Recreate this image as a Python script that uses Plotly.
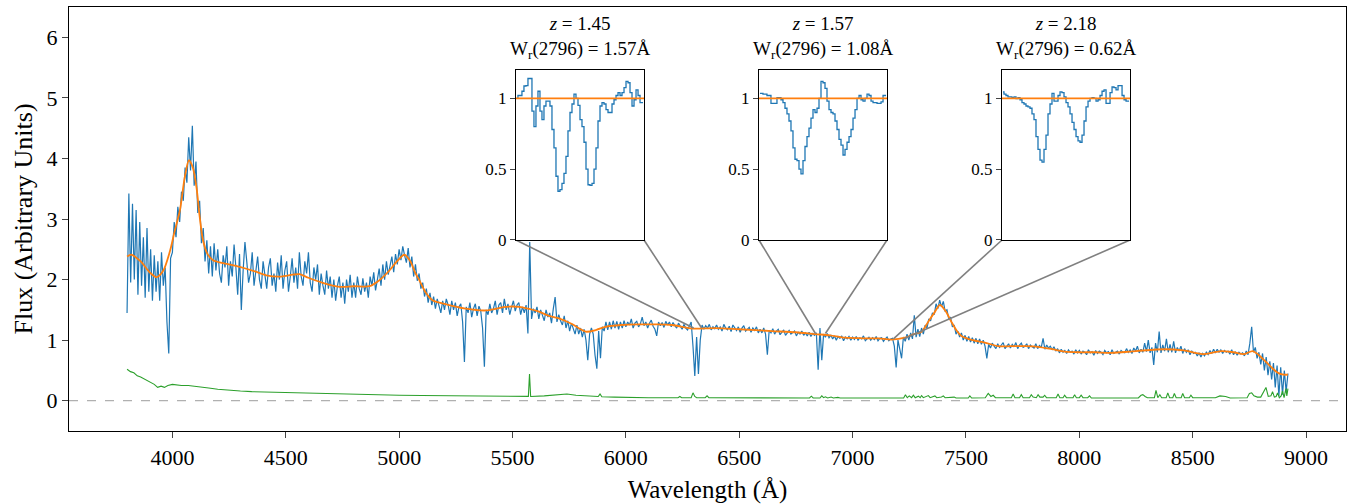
import numpy as np
import plotly.graph_objects as go

# ---------------- data ----------------
WAVE_START = 3800.0
WAVE_STEP = 8.0
FLUX = [
    1.45,3.42,1.95,3.25,2.0,3.15,1.75,2.95,1.9,2.7,1.7,2.85,1.8,2.5,1.65,2.4,1.8,2.3,1.65,2.45,1.9,2.2,1.3,0.78,2.35,
    2.45,2.95,2.7,3.2,2.95,3.45,3.3,3.85,3.6,4.35,3.8,4.54,3.55,3.95,3.1,3.3,2.6,2.85,2.3,2.65,2.1,2.55,2.05,2.6,2.15,
    2.5,2.1,1.95,2.4,2.2,2.55,1.9,2.3,2.05,2.58,2.2,1.75,2.42,1.5,2.15,2.62,2.3,1.95,2.1,2.45,1.9,2.2,2.38,2.0,1.85,
    2.3,2.05,1.85,2.2,2.35,1.9,2.1,1.8,2.28,2.0,2.4,1.85,2.15,2.3,1.8,2.05,2.35,1.95,2.2,1.85,2.45,2.05,1.9,2.3,2.1,
    2.45,1.95,1.8,2.2,2.0,2.25,1.75,2.1,1.9,1.75,2.15,1.85,2.05,1.7,2.0,1.65,1.9,2.05,1.7,1.95,1.6,2.0,1.8,2.08,1.7,
    1.95,1.7,2.05,1.85,1.75,2.02,1.8,1.95,1.7,2.05,1.9,2.12,1.82,2.0,2.18,1.9,2.25,2.0,2.3,2.08,2.22,2.38,2.12,2.42,2.25,
    2.5,2.32,2.55,2.4,2.28,2.52,2.2,2.38,2.05,2.25,1.98,2.1,1.85,1.95,1.72,1.85,1.62,1.78,1.58,1.72,1.52,1.68,1.55,1.45,1.65,
    1.5,1.68,1.58,1.42,1.65,1.5,1.62,1.4,1.55,1.6,1.3,0.64,1.55,1.45,1.62,1.38,1.52,1.6,1.4,1.56,1.48,1.2,0.56,1.5,1.42,
    1.6,1.45,1.52,1.65,1.42,1.58,1.62,1.45,1.68,1.5,1.6,1.42,1.55,1.65,1.48,1.58,1.62,1.42,1.55,1.45,1.58,1.11,2.62,1.35,1.52,
    1.45,1.55,1.35,1.5,1.42,1.32,1.5,1.38,1.45,1.28,1.52,1.71,1.3,1.42,1.32,1.25,1.4,1.2,1.32,1.15,1.28,1.2,1.1,1.25,1.1,
    1.2,1.05,1.18,1.0,0.67,1.1,1.2,1.1,0.75,0.53,1.15,0.7,1.22,1.15,1.3,1.17,1.3,1.18,1.32,1.2,1.31,1.18,1.3,1.2,1.32,
    1.22,1.3,1.25,1.35,1.2,1.28,1.31,1.22,1.27,1.38,1.24,1.3,1.2,1.28,1.33,1.23,1.18,1.07,1.3,1.24,1.29,1.21,1.31,1.25,1.3,
    1.22,1.29,1.24,1.2,1.28,1.22,1.18,1.26,1.2,1.17,1.23,1.3,0.9,0.41,1.05,0.44,1.0,1.25,1.18,1.24,1.2,1.26,1.17,1.22,1.19,
    1.25,1.18,1.22,1.15,1.26,1.2,1.17,1.23,1.14,1.25,1.2,1.16,1.22,1.13,1.2,1.24,1.15,1.19,1.21,1.13,1.2,1.16,1.22,1.12,1.18,
    1.12,1.2,1.1,0.76,1.16,1.12,1.19,1.1,1.15,1.18,1.09,1.14,1.17,1.08,1.13,1.16,1.1,1.12,1.15,1.07,1.13,1.1,1.15,1.08,1.12,
    1.07,1.13,1.06,1.11,1.08,1.12,0.51,1.2,0.67,1.1,1.05,1.11,1.04,1.08,1.02,1.07,1.0,1.06,1.03,1.07,0.99,1.05,1.02,1.06,1.0,
    1.05,1.01,1.06,1.0,1.04,1.02,1.07,0.99,1.03,1.05,1.0,1.04,1.01,1.06,0.99,1.03,1.04,0.98,1.02,1.05,0.99,1.02,1.03,0.9,0.55,
    1.0,0.85,0.7,1.05,0.98,1.1,1.0,1.12,1.02,1.41,1.05,1.18,1.06,1.2,1.1,1.25,1.2,1.35,1.32,1.45,1.42,1.6,1.52,1.66,1.55,
    1.64,1.48,1.5,1.35,1.38,1.22,1.25,1.1,1.15,1.05,1.12,1.0,1.08,0.98,1.06,0.97,1.04,0.95,1.03,0.94,1.02,0.93,1.0,0.9,0.7,
    0.93,0.87,0.95,0.9,0.86,0.94,0.88,0.92,0.96,0.86,0.91,0.94,0.87,0.93,0.89,0.96,0.86,0.92,0.95,0.88,0.9,0.94,0.86,0.92,0.89,
    0.87,0.94,0.86,0.91,0.88,1.03,0.85,0.92,0.87,0.9,0.84,0.89,0.82,0.86,0.79,0.85,0.8,0.83,0.78,0.84,0.8,0.82,0.77,0.84,0.79,
    0.83,0.77,0.82,0.8,0.76,0.84,0.79,0.81,0.75,0.83,0.78,0.82,0.8,0.76,0.83,0.79,0.81,0.76,0.84,0.78,0.8,0.82,0.77,0.83,0.8,
    0.79,0.86,0.8,0.84,0.78,0.87,0.82,0.9,0.79,0.85,0.8,0.95,0.81,1.0,0.79,0.88,0.59,0.95,0.8,1.14,0.79,0.92,0.82,1.02,0.8,
    0.93,0.8,0.98,0.79,0.88,0.82,0.9,0.78,0.86,0.8,0.84,0.76,0.82,0.78,0.8,0.74,0.79,0.72,0.78,0.74,0.8,0.76,0.83,0.78,0.85,
    0.79,0.85,0.8,0.84,0.78,0.83,0.8,0.82,0.77,0.84,0.76,0.81,0.75,0.8,0.77,0.79,0.74,0.82,0.76,0.95,1.22,0.8,0.88,0.7,0.8,
    0.6,0.78,0.5,0.72,0.42,0.65,0.35,0.62,0.22,0.58,0.08,0.55,0.1,0.5,0.15,0.45,
]

CONT_WAVE = [3800,3820,3860,3900,3930,3960,3990,4010,4033,4055,4073,4090,4106,4120,4135,4155,4179,4240,4297,4360,
             4414,4480,4530,4561,4600,4660,4737,4800,4869,4910,4957,4990,5023,5050,5070,5089,5115,5147,5200,5294,
             5382,5430,5470,5529,5580,5617,5661,5705,5760,5823,5870,5910,5980,6057,6130,6204,6292,6395,6500,6644,
             6750,6835,6900,6967,7060,7114,7172,7231,7270,7304,7333,7360,7385,7410,7436,7460,7480,7530,7583,7642,
             7700,7760,7818,7880,7935,8000,8070,8140,8250,8375,8460,8551,8625,8680,8727,8764,8790,8815,8850,8876,
             8900,8920]
CONT_FLUX = [2.38,2.41,2.30,2.12,2.04,2.15,2.48,2.80,3.14,3.70,3.97,3.85,3.53,3.05,2.65,2.42,2.32,2.26,2.21,2.14,
             2.07,2.05,2.08,2.09,2.03,1.95,1.88,1.89,1.89,1.98,2.15,2.30,2.41,2.30,2.12,1.99,1.80,1.66,1.60,1.52,
             1.49,1.52,1.55,1.55,1.51,1.47,1.40,1.36,1.27,1.14,1.17,1.22,1.25,1.26,1.26,1.25,1.19,1.20,1.18,1.15,
             1.13,1.10,1.08,1.04,1.03,1.03,1.01,1.04,1.10,1.14,1.30,1.45,1.58,1.48,1.30,1.15,1.07,1.00,0.96,0.90,
             0.90,0.90,0.89,0.85,0.81,0.80,0.80,0.79,0.82,0.85,0.83,0.77,0.82,0.80,0.77,0.82,0.76,0.67,0.54,0.46,
             0.43,0.43]

ERR_WAVE = [3800,3815,3830,3845,3860,3875,3890,3905,3920,3935,3950,3965,3980,4000,4020,4040,4070,4100,4130,4160,
            4200,4250,4300,4350,4400,4450,4500,4600,4700,4800,4900,5000,5100,5200,5300,5400,5500,5570,5575,5580,
            5640,5700,5740,5780,5830,5878,5886,5894,5950,6000,6100,6200,6230,6238,6246,6288,6296,6304,6312,6350,
            6358,6366,6600,6810,6818,6826,6856,6864,6872,6880,6890,6905,6915,6935,6945,7225,7233,7241,7250,7260,
            7268,7276,7290,7298,7304,7312,7334,7342,7363,7371,7392,7400,7408,7440,7448,7456,7510,7517,7525,7585,
            7598,7610,7620,7630,7700,7708,7716,7736,7744,7752,7780,7788,7796,7810,7818,7826,7840,7847,7855,7898,
            7906,7914,7928,7935,7943,7972,7979,7987,8000,8008,8016,8037,8045,8053,8260,8272,8280,8290,8300,8331,
            8338,8346,8355,8363,8383,8390,8398,8412,8419,8427,8449,8456,8464,8485,8492,8500,8560,8600,8620,8645,
            8665,8740,8750,8760,8770,8785,8800,8812,8823,8833,8845,8852,8860,8868,8874,8882,8890,8896,8903,8911,
            8915,8920]
ERR = [0.52,0.48,0.46,0.41,0.39,0.36,0.33,0.31,0.27,0.22,0.24,0.22,0.25,0.27,0.26,0.25,0.25,0.24,0.22,0.21,
       0.19,0.17,0.16,0.15,0.145,0.14,0.13,0.12,0.11,0.10,0.095,0.09,0.085,0.08,0.078,0.075,0.072,0.072,0.44,0.07,
       0.08,0.095,0.11,0.09,0.075,0.07,0.11,0.065,0.06,0.055,0.05,0.05,0.05,0.07,0.05,0.05,0.13,0.07,0.05,0.05,
       0.08,0.05,0.045,0.045,0.075,0.045,0.045,0.08,0.05,0.065,0.045,0.06,0.045,0.055,0.045,0.045,0.10,0.05,0.08,0.05,
       0.09,0.05,0.075,0.05,0.085,0.05,0.085,0.05,0.08,0.05,0.06,0.08,0.05,0.05,0.06,0.045,0.045,0.08,0.045,0.05,
       0.12,0.07,0.09,0.05,0.05,0.11,0.05,0.05,0.10,0.05,0.05,0.10,0.06,0.05,0.10,0.06,0.06,0.09,0.05,0.05,
       0.11,0.05,0.05,0.09,0.05,0.05,0.10,0.05,0.05,0.09,0.05,0.05,0.08,0.045,0.045,0.09,0.10,0.07,0.05,0.05,
       0.17,0.05,0.10,0.05,0.05,0.13,0.05,0.05,0.12,0.05,0.05,0.12,0.05,0.05,0.09,0.05,0.045,0.05,0.08,0.07,
       0.045,0.05,0.12,0.13,0.08,0.06,0.06,0.15,0.22,0.07,0.08,0.15,0.06,0.07,0.13,0.05,0.08,0.16,0.05,0.20,
       0.08,0.20]

# insets: normalised flux (pixels across the MgII doublet)
INSET_FLUX = [
    [1.0,1.02,1.02,1.05,1.087,1.09,1.14,1.14,0.91,0.80,0.946,1.05,0.91,0.85,0.946,0.98,
     0.98,0.946,0.78,0.65,0.45,0.344,0.356,0.40,0.47,0.59,0.77,0.90,0.96,1.03,1.0,0.95,
     0.85,0.80,0.69,0.50,0.39,0.385,0.40,0.50,0.65,0.84,0.946,0.97,0.96,0.92,0.90,0.90,
     0.96,0.99,1.02,1.04,1.02,1.04,1.075,1.12,1.11,1.04,0.946,0.99,1.06,1.02,0.97,0.97],
    [1.035,1.035,1.03,1.03,1.02,1.02,0.965,0.965,0.965,1.005,1.005,0.99,0.97,0.93,0.89,0.84,
     0.77,0.65,0.57,0.56,0.50,0.467,0.56,0.66,0.73,0.79,0.86,0.92,0.90,0.93,1.0,1.12,
     1.11,1.07,0.98,0.92,0.90,0.89,0.84,0.78,0.71,0.67,0.60,0.64,0.69,0.73,0.78,0.86,
     0.92,1.0,1.02,0.99,0.98,1.0,1.03,1.02,0.98,0.97,0.97,0.965,0.965,0.975,1.02,1.02],
    [1.045,1.03,1.02,1.01,1.01,1.005,1.01,0.998,1.005,0.99,0.97,0.96,0.946,0.94,0.93,0.89,
     0.85,0.73,0.64,0.564,0.55,0.64,0.74,0.89,0.96,1.035,0.98,0.98,1.02,1.045,1.04,1.01,
     0.97,0.94,0.89,0.83,0.78,0.73,0.70,0.69,0.74,0.84,0.94,0.98,1.0,1.005,1.0,0.98,
     0.99,1.02,1.05,1.06,0.965,0.965,1.04,1.08,1.075,1.06,1.09,1.09,1.02,0.99,0.98,0.98],
]
INSET_CONT = 1.0
INSET_Z = ["1.45", "1.57", "2.18"]
INSET_W = ["1.57", "1.08", "0.62"]
ZOOM_X0 = [6299, 6836, 7180]
ZOOM_X1 = [6334, 6880, 7224]
ZOOM_YTOP = [1.20, 1.11, 1.02]

X_TICKS = [4000, 4500, 5000, 5500, 6000, 6500, 7000, 7500, 8000, 8500, 9000]
Y_TICKS = [0, 1, 2, 3, 4, 5, 6]
INSET_YTICKS = [0, 0.5, 1]
INSET_YTICKTEXT = ["0", "0.5", "1"]

# ---------------- figure ----------------
FONT = "Liberation Serif"
BLUE, ORANGE, GREEN, GREY = "#1f77b4", "#ff7f0e", "#2ca02c", "#808080"
XR = [3544, 9176]
YR = [-0.5, 6.5]
INSET_XDOM = [[0.3500, 0.4503], [0.5403, 0.6406], [0.7306, 0.8309]]
INSET_YDOM = [0.4505, 0.8514]

wave = WAVE_START + WAVE_STEP * np.arange(len(FLUX))

fig = go.Figure()
fig.add_trace(go.Scatter(x=wave, y=FLUX, mode="lines", line=dict(color=BLUE, width=1.2),
                         xaxis="x", yaxis="y", hoverinfo="skip"))
fig.add_trace(go.Scatter(x=CONT_WAVE, y=CONT_FLUX, mode="lines",
                         line=dict(color=ORANGE, width=1.8, shape="spline", smoothing=0.8),
                         xaxis="x", yaxis="y"))
fig.add_trace(go.Scatter(x=ERR_WAVE, y=ERR, mode="lines", line=dict(color=GREEN, width=1.1),
                         xaxis="x", yaxis="y"))

# connector lines from inset bottom corners to the zoomed regions
cx, cy = [], []
for k in range(3):
    xl = XR[0] + INSET_XDOM[k][0] * (XR[1] - XR[0])
    xr = XR[0] + INSET_XDOM[k][1] * (XR[1] - XR[0])
    yb = YR[0] + INSET_YDOM[0] * (YR[1] - YR[0])
    cx += [xl, ZOOM_X0[k], None, xr, ZOOM_X1[k], None]
    cy += [yb, ZOOM_YTOP[k], None, yb, ZOOM_YTOP[k], None]
fig.add_trace(go.Scatter(x=cx, y=cy, mode="lines", line=dict(color=GREY, width=1.6),
                         xaxis="x", yaxis="y", connectgaps=False))

fig.add_shape(type="line", xref="paper", x0=0, x1=1, yref="y", y0=0, y1=0,
              line=dict(color="#b0b0b0", width=1.2, dash="dash"), layer="below")

layout = dict(
    width=1351, height=504,
    margin=dict(l=69, r=5, t=7, b=73),
    paper_bgcolor="white", plot_bgcolor="white",
    showlegend=False,
    font=dict(family=FONT, size=22, color="black"),
    xaxis=dict(range=XR, tickvals=X_TICKS, ticks="outside", ticklen=6, tickwidth=1.2,
               showline=True, mirror=True, linecolor="black", linewidth=1.3,
               showgrid=False, zeroline=False, tickfont=dict(size=22),
               title=dict(text="Wavelength (Å)", font=dict(size=25), standoff=12), automargin=False),
    yaxis=dict(range=YR, tickvals=Y_TICKS, ticks="outside", ticklen=6, tickwidth=1.2,
               showline=True, mirror=True, linecolor="black", linewidth=1.3,
               showgrid=False, zeroline=False, tickfont=dict(size=22),
               title=dict(text="Flux (Arbitrary Units)", font=dict(size=26), standoff=6), automargin=False),
)

annotations = []
for k in range(3):
    n = len(INSET_FLUX[k])
    xi = np.arange(n)
    ax = str(k + 2)
    fig.add_trace(go.Scatter(x=xi, y=INSET_FLUX[k], mode="lines",
                             line=dict(color=BLUE, width=1.3, shape="hvh"),
                             xaxis="x" + ax, yaxis="y" + ax))
    fig.add_trace(go.Scatter(x=[xi[0] - 0.5, xi[-1] + 0.5], y=[INSET_CONT, INSET_CONT], mode="lines",
                             line=dict(color=ORANGE, width=1.8),
                             xaxis="x" + ax, yaxis="y" + ax))
    layout["xaxis" + ax] = dict(domain=INSET_XDOM[k], anchor="y" + ax, range=[-0.5, n - 0.5],
                                showticklabels=False, ticks="", showgrid=False, zeroline=False,
                                showline=True, mirror=True, linecolor="black", linewidth=1.3)
    layout["yaxis" + ax] = dict(domain=INSET_YDOM, anchor="x" + ax, range=[0, 1.2],
                                tickvals=INSET_YTICKS, ticktext=INSET_YTICKTEXT,
                                ticks="outside", ticklen=5, tickwidth=1.2, tickfont=dict(size=17),
                                showgrid=False, zeroline=False,
                                showline=True, mirror=True, linecolor="black", linewidth=1.3)
    annotations.append(dict(
        xref="paper", yref="paper",
        x=(INSET_XDOM[k][0] + INSET_XDOM[k][1]) / 2, y=INSET_YDOM[1],
        xanchor="center", yanchor="bottom", yshift=6, showarrow=False,
        text="<i>z</i> = %s<br>W<sub>r</sub>(2796) = %sÅ" % (INSET_Z[k], INSET_W[k]),
        font=dict(family=FONT, size=19, color="black"), align="center"))

layout["annotations"] = annotations
fig.update_layout(**layout)
fig.write_html("out.html")
